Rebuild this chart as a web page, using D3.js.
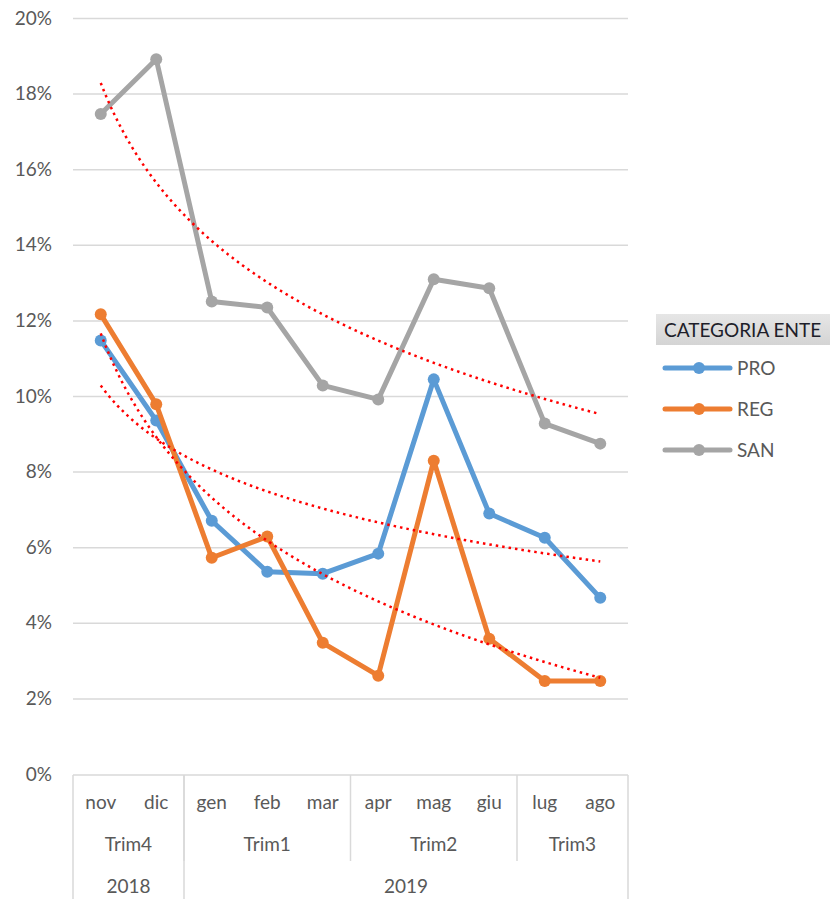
<!DOCTYPE html>
<html>
<head>
<meta charset="utf-8">
<script src="https://cdn.jsdelivr.net/npm/d3@7"></script>
<style>
  body { margin: 0; background: #fff; }
  svg { display: block; font-family: Lato, "Open Sans", sans-serif; }
</style>
</head>
<body>
<svg id="chart" width="830" height="899"></svg>
<script>
// categories (3 level axis)
const months = ["nov", "dic", "gen", "feb", "mar", "apr", "mag", "giu", "lug", "ago"];
const quarters = ["Trim4", "Trim4", "Trim1", "Trim1", "Trim1", "Trim2", "Trim2", "Trim2", "Trim3", "Trim3"];
const years = ["2018", "2018", "2019", "2019", "2019", "2019", "2019", "2019", "2019", "2019"];

// series values (%)
const pro = [11.47, 9.35, 6.70, 5.35, 5.30, 5.83, 10.44, 6.89, 6.25, 4.66];
const reg = [12.16, 9.78, 5.72, 6.28, 3.47, 2.60, 8.29, 3.58, 2.46, 2.46];
const san = [17.46, 18.91, 12.50, 12.34, 10.28, 9.91, 13.09, 12.85, 9.27, 8.74];

const seriesNames = ["PRO", "REG", "SAN"];
const yTicks = [0, 2, 4, 6, 8, 10, 12, 14, 16, 18, 20];
const legendTitle = "CATEGORIA ENTE";

const colors = { PRO: "#5B9BD5", REG: "#ED7D31", SAN: "#A5A5A5" };
const series = [
  { name: "PRO", values: pro },
  { name: "REG", values: reg },
  { name: "SAN", values: san }
];

const svg = d3.select("#chart");
const plotLeft = 73, plotRight = 628, plotTop = 18, plotBottom = 774;
const fs = "19px";

const x = d3.scaleBand().domain(months).range([plotLeft, plotRight]).paddingInner(0).paddingOuter(0);
const cx = m => x(m) + x.bandwidth() / 2;
const y = d3.scaleLinear().domain([0, 20]).range([plotBottom, plotTop]);

// gridlines + y labels
const yAxis = d3.axisLeft(y).tickValues(yTicks).tickSize(0).tickPadding(0)
  .tickFormat(d => d + "%");
const gy = svg.append("g").attr("transform", `translate(${plotLeft},0)`).call(yAxis);
gy.select(".domain").remove();
gy.selectAll("text")
  .attr("x", -21)
  .attr("fill", "#595959")
  .style("font-size", fs)
  .style("font-family", "Lato, sans-serif");
gy.selectAll(".tick").filter(d => d > 0).append("line")
  .attr("x1", 0).attr("x2", plotRight - plotLeft)
  .attr("stroke", "#d9d9d9").attr("stroke-width", 1.5);

// category axis table
const axisCol = "#d9d9d9";
const axisG = svg.append("g");
axisG.append("line").attr("x1", plotLeft).attr("x2", plotRight).attr("y1", plotBottom + 1).attr("y2", plotBottom + 1)
  .attr("stroke", axisCol).attr("stroke-width", 1.5);

function runs(arr) {
  const out = [];
  arr.forEach((v, i) => {
    if (out.length && out[out.length - 1].label === v) out[out.length - 1].end = i;
    else out.push({ label: v, start: i, end: i });
  });
  return out;
}
const qRuns = runs(quarters);
const yRuns = runs(years);
const runMid = d => (x(months[d.start]) + x(months[d.end]) + x.bandwidth()) / 2;

axisG.selectAll(".month").data(months).join("text")
  .attr("x", d => cx(d)).attr("y", 809)
  .attr("text-anchor", "middle").attr("fill", "#595959")
  .style("font-size", fs).text(d => d);

axisG.selectAll(".quarter").data(qRuns).join("text")
  .attr("x", runMid).attr("y", 851)
  .attr("text-anchor", "middle").attr("fill", "#595959")
  .style("font-size", fs).text(d => d.label);

axisG.selectAll(".year").data(yRuns).join("text")
  .attr("x", runMid).attr("y", 893)
  .attr("text-anchor", "middle").attr("fill", "#595959")
  .style("font-size", fs).text(d => d.label);

// separators
axisG.selectAll(".qsep").data(qRuns.slice(1)).join("line")
  .attr("x1", d => x(months[d.start])).attr("x2", d => x(months[d.start]))
  .attr("y1", plotBottom + 1).attr("y2", 861)
  .attr("stroke", axisCol).attr("stroke-width", 1.5);
axisG.selectAll(".ysep").data(yRuns.slice(1)).join("line")
  .attr("x1", d => x(months[d.start])).attr("x2", d => x(months[d.start]))
  .attr("y1", plotBottom + 1).attr("y2", 899)
  .attr("stroke", axisCol).attr("stroke-width", 1.5);
[plotLeft, plotRight].forEach(px => {
  axisG.append("line").attr("x1", px).attr("x2", px).attr("y1", plotBottom + 1).attr("y2", 899)
    .attr("stroke", axisCol).attr("stroke-width", 1.5);
});

// series lines
const line = d3.line().x((d, i) => cx(months[i])).y(d => y(d));
series.forEach(s => {
  const g = svg.append("g");
  g.append("path").datum(s.values).attr("d", line)
    .attr("fill", "none").attr("stroke", colors[s.name]).attr("stroke-width", 5)
    .attr("stroke-linejoin", "round");
  g.selectAll("circle").data(s.values).join("circle")
    .attr("cx", (d, i) => cx(months[i])).attr("cy", d => y(d)).attr("r", 6)
    .attr("fill", colors[s.name]);
});

// logarithmic trendlines (least squares on ln(index))
const tx = d3.scaleLinear().domain([1, months.length]).range([cx(months[0]), cx(months[months.length - 1])]);
series.forEach(s => {
  const lx = s.values.map((v, i) => Math.log(i + 1));
  const mx = d3.mean(lx), my = d3.mean(s.values);
  const a = d3.sum(lx, (l, i) => (l - mx) * (s.values[i] - my)) / d3.sum(lx, l => (l - mx) ** 2);
  const b = my - a * mx;
  const pts = d3.range(1, months.length + 0.001, 0.05).map(t => [tx(t), y(a * Math.log(t) + b)]);
  svg.append("path").datum(pts).attr("d", d3.line())
    .attr("fill", "none").attr("stroke", "#FF0000").attr("stroke-width", 2.5)
    .attr("stroke-dasharray", "2.5,4");
});

// legend
const defs = svg.append("defs");
const grad = defs.append("linearGradient").attr("id", "lg").attr("x1", 0).attr("x2", 0).attr("y1", 0).attr("y2", 1);
grad.append("stop").attr("offset", "0%").attr("stop-color", "#e6e6e6");
grad.append("stop").attr("offset", "100%").attr("stop-color", "#d4d4d4");
const leg = svg.append("g");
leg.append("rect").attr("x", 656).attr("y", 314).attr("width", 180).attr("height", 31).attr("fill", "url(#lg)");
leg.append("text").attr("x", 664).attr("y", 337).attr("fill", "#1e1e2a")
  .style("font-size", fs).text(legendTitle);
const legItems = leg.selectAll(".item").data(seriesNames).join("g")
  .attr("transform", (d, i) => `translate(0,${368 + i * 41})`);
legItems.append("line").attr("x1", 665).attr("x2", 730).attr("y1", 0).attr("y2", 0)
  .attr("stroke", d => colors[d]).attr("stroke-width", 5).attr("stroke-linecap", "round");
legItems.append("circle").attr("cx", 699).attr("cy", 0).attr("r", 6).attr("fill", d => colors[d]);
legItems.append("text").attr("x", 737).attr("y", 7).attr("fill", "#595959")
  .style("font-size", fs).text(d => d);
</script>
</body>
</html>
